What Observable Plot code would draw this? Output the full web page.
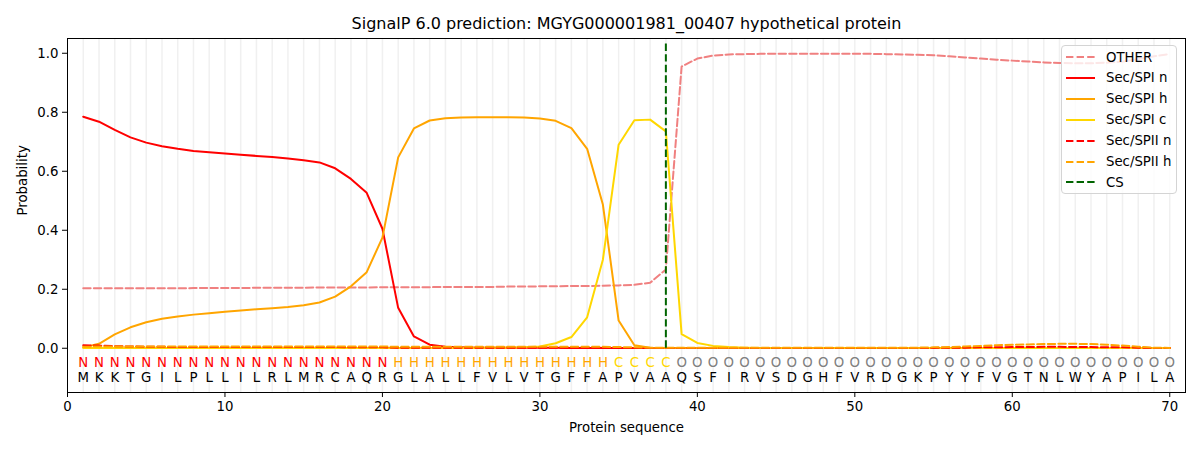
<!DOCTYPE html>
<html>
<head>
<meta charset="utf-8">
<script src="https://cdn.jsdelivr.net/npm/d3@7"></script>
<script src="https://cdn.jsdelivr.net/npm/@observablehq/plot@0.6"></script>
<style>
  html, body { margin: 0; padding: 0; background: #fff; }
  #wrap { position: relative; width: 1200px; height: 450px; font-family: "DejaVu Sans", sans-serif; }
  #legend { position: absolute; left: 1061px; top: 45px; width: 116px; height: 149px; border: 1px solid #d4d4d4; border-radius: 4px; background: rgba(255,255,255,0.8); box-sizing: border-box; font-size: 13.3px; }
  .item { position: absolute; left: 0; height: 20px; display: flex; align-items: center; }
  .item svg { margin-left: 4px; }
  .item span { margin-left: 11px; color: #000; }
</style>
</head>
<body>
<div id="wrap"><div id="chart"></div><div id="legend"></div></div>
<script>
const title = "SignalP 6.0 prediction: MGYG000001981_00407 hypothetical protein";
const sequence = "MKKTGILPLLILRLMRCAQRGLALLFVLVTGFFAPVAAQSFIRVSDGHFVRDGKPYYFVGTNLWYAPILA".split("");
const regions = "NNNNNNNNNNNNNNNNNNNNHHHHHHHHHHHHHHCCCCOOOOOOOOOOOOOOOOOOOOOOOOOOOOOOOO".split("");
const positions = d3.range(1, 71);
const csPosition = 38;
const xTicks = [0, 10, 20, 30, 40, 50, 60, 70];
const yTicks = [0, 0.2, 0.4, 0.6, 0.8, 1.0];

const other = [0.203,0.203,0.203,0.203,0.203,0.203,0.203,0.204,0.204,0.204,
  0.204,0.205,0.205,0.205,0.205,0.206,0.206,0.206,0.206,0.207,
  0.207,0.207,0.207,0.208,0.208,0.208,0.208,0.209,0.209,0.210,
  0.210,0.211,0.211,0.212,0.213,0.215,0.222,0.267,0.955,0.982,
  0.992,0.996,0.997,0.998,0.998,0.998,0.998,0.998,0.998,0.998,
  0.998,0.997,0.996,0.995,0.993,0.990,0.986,0.982,0.978,0.975,
  0.972,0.969,0.967,0.966,0.966,0.968,0.972,0.980,0.990,0.997];
const spiN = [0.785,0.768,0.740,0.715,0.697,0.685,0.676,0.669,0.664,0.660,
  0.656,0.652,0.648,0.643,0.637,0.630,0.610,0.574,0.527,0.405,
  0.137,0.040,0.012,0.005,0.003,0.002,0.002,0.002,0.002,0.002,
  0.002,0.001,0.001,0.001,0.001,0.001,0.001,0.001,0.001,0.001,
  0.001,0.001,0.001,0.001,0.001,0.001,0.001,0.001,0.001,0.001,
  0.001,0.001,0.001,0.001,0.001,0.001,0.001,0.001,0.001,0.001,
  0.001,0.001,0.001,0.001,0.001,0.001,0.001,0.001,0.001,0.001];
const spiH = [0.003,0.015,0.047,0.071,0.088,0.100,0.108,0.114,0.119,0.124,
  0.128,0.132,0.136,0.140,0.146,0.155,0.175,0.210,0.258,0.375,
  0.647,0.745,0.772,0.780,0.782,0.783,0.783,0.783,0.782,0.779,
  0.771,0.746,0.676,0.487,0.094,0.010,0.002,0.001,0.001,0.001,
  0.001,0.001,0.001,0.001,0.001,0.001,0.001,0.001,0.001,0.001,
  0.001,0.001,0.001,0.001,0.001,0.001,0.001,0.001,0.001,0.001,
  0.001,0.001,0.001,0.001,0.001,0.001,0.001,0.001,0.001,0.001];
const spiC = [0.001,0.001,0.001,0.001,0.001,0.001,0.001,0.001,0.001,0.001,
  0.001,0.001,0.001,0.001,0.001,0.001,0.001,0.001,0.001,0.001,
  0.001,0.001,0.001,0.001,0.001,0.001,0.002,0.002,0.003,0.006,
  0.017,0.038,0.105,0.300,0.690,0.773,0.775,0.735,0.048,0.018,
  0.008,0.004,0.002,0.001,0.001,0.001,0.001,0.001,0.001,0.001,
  0.001,0.001,0.001,0.001,0.001,0.001,0.001,0.001,0.001,0.001,
  0.001,0.001,0.001,0.001,0.001,0.001,0.001,0.001,0.001,0.001];
const spiiN = [0.010,0.009,0.007,0.006,0.005,0.005,0.004,0.004,0.004,0.004,
  0.004,0.004,0.004,0.004,0.004,0.004,0.004,0.003,0.003,0.003,
  0.002,0.002,0.002,0.002,0.002,0.002,0.002,0.002,0.002,0.002,
  0.002,0.001,0.001,0.001,0.001,0.001,0.001,0.001,0.001,0.001,
  0.001,0.001,0.001,0.001,0.001,0.001,0.001,0.001,0.001,0.001,
  0.001,0.001,0.001,0.001,0.001,0.002,0.002,0.003,0.003,0.004,
  0.004,0.005,0.005,0.004,0.004,0.003,0.003,0.002,0.001,0.001];
const spiiH = [0.005,0.006,0.006,0.006,0.006,0.006,0.006,0.006,0.006,0.006,
  0.006,0.006,0.006,0.006,0.006,0.006,0.006,0.006,0.006,0.006,
  0.005,0.005,0.005,0.005,0.005,0.005,0.005,0.005,0.005,0.005,
  0.005,0.005,0.005,0.005,0.004,0.003,0.002,0.002,0.002,0.002,
  0.002,0.002,0.002,0.002,0.002,0.002,0.002,0.002,0.002,0.002,
  0.002,0.002,0.002,0.002,0.003,0.004,0.006,0.008,0.010,0.012,
  0.013,0.014,0.015,0.015,0.014,0.012,0.009,0.005,0.002,0.001];

const series = [
  {name: "OTHER", values: other, color: "#f08080", dash: "7.4,3.2"},
  {name: "Sec/SPI n", values: spiN, color: "red", dash: null},
  {name: "Sec/SPI h", values: spiH, color: "orange", dash: null},
  {name: "Sec/SPI c", values: spiC, color: "gold", dash: null},
  {name: "Sec/SPII n", values: spiiN, color: "red", dash: "7.4,3.2"},
  {name: "Sec/SPII h", values: spiiH, color: "orange", dash: "7.4,3.2"}
];
const regionColor = {N: "red", H: "orange", C: "gold", O: "gray"};

const lineMarks = series.map(s => Plot.line(positions.map((p, i) => ({x: p, y: s.values[i]})), {
  x: "x", y: "y", stroke: s.color, strokeWidth: 2, strokeDasharray: s.dash
}));

const font = "DejaVu Sans, sans-serif";
const plot = Plot.plot({
  width: 1200, height: 450,
  marginLeft: 67, marginRight: 15, marginTop: 38, marginBottom: 58,
  style: {fontFamily: font, fontSize: "13.3px", background: "white"},
  x: {domain: [0, 71], ticks: xTicks, tickSize: 5, tickPadding: 4, label: null, tickFormat: d3.format("d")},
  y: {domain: [-0.15, 1.05], ticks: yTicks, tickSize: 5, tickPadding: 4, label: null, tickFormat: d3.format(".1f")},
  marks: [
    Plot.ruleX(positions, {x: d => d, stroke: "gray", strokeOpacity: 0.12, strokeWidth: 1.5}),
    ...lineMarks,
    Plot.ruleX([csPosition], {x: d => d, y1: 0, y2: 1.035, stroke: "darkgreen", strokeWidth: 2, strokeDasharray: "7.4,3.2"}),
    Plot.text(positions, {x: d => d, y: -0.05, text: (d, i) => regions[i], fill: (d, i) => regionColor[regions[i]], fontSize: 13.3}),
    Plot.text(positions, {x: d => d, y: -0.1, text: (d, i) => sequence[i], fill: "black", fontSize: 13.3}),
    Plot.frame({stroke: "black", strokeWidth: 1}),
    Plot.axisX({ticks: xTicks, tickSize: 5, tickPadding: 4, tickFormat: d3.format("d"), label: null}),
    Plot.axisY({ticks: yTicks, tickSize: 5, tickPadding: 4, tickFormat: d3.format(".1f"), label: null}),
    Plot.text([title], {frameAnchor: "top", lineAnchor: "middle", dy: -15, fontSize: 16, fill: "black"}),
    Plot.text(["Protein sequence"], {frameAnchor: "bottom", lineAnchor: "middle", dy: 35, fontSize: 13.3, fill: "black"}),
    Plot.text(["Probability"], {frameAnchor: "left", dx: -45, rotate: -90, fontSize: 13.3, fill: "black"})
  ]
});
document.getElementById("chart").appendChild(plot);

const legendItems = [...series, {name: "CS", color: "darkgreen", dash: "7.4,3.2"}];
const legend = document.getElementById("legend");
legendItems.forEach((s, i) => {
  const div = document.createElement("div");
  div.className = "item";
  div.style.top = (1 + i * 20.9) + "px";
  div.innerHTML = `<svg width="29" height="6"><line x1="0" y1="3" x2="29" y2="3" stroke="${s.color}" stroke-width="2" ${s.dash ? `stroke-dasharray="${s.dash}"` : ""}/></svg><span>${s.name}</span>`;
  legend.appendChild(div);
});
</script>
</body>
</html>
